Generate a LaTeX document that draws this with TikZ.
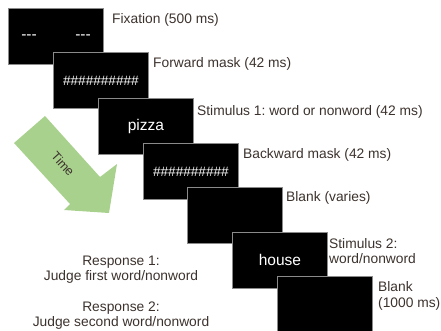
\documentclass[tikz,border=0pt]{standalone}
\usepackage{fontspec}
\setmainfont{Liberation Sans}
\frenchspacing
\definecolor{txt}{HTML}{3C322D}
\definecolor{arrowgreen}{HTML}{A9D18E}
\definecolor{boxedge}{HTML}{8A8A8A}
\begin{document}
\begin{tikzpicture}[x=1pt,y=-1pt,
  screen/.style={draw=boxedge, line width=0.8pt, fill=black, anchor=north west,
    minimum width=95pt, minimum height=56pt, inner sep=0pt, text=white,
    font=\fontsize{15.5}{17}\selectfont},
  hashes/.style={font=\fontsize{13.6}{15}\selectfont},
  lbl/.style={anchor=west, inner sep=0pt, text=txt, align=left,
    font=\fontsize{13.8}{15.5}\selectfont},
  resp/.style={inner sep=0pt, text=txt, align=center,
    font=\fontsize{13.8}{15.5}\selectfont}]
\useasboundingbox (0,0) rectangle (441,330);
% time arrow
\fill[arrowgreen] (45,116) -- (100,177) -- (117,164) -- (109,213) -- (64,210) -- (70,204) -- (14,143) -- cycle;
\node[text=txt, rotate=-48, inner sep=0pt, font=\fontsize{12.5}{14}\selectfont] (time) at (63,164) {Time};
% screens
\node[screen] (s1) at (8,8) {};
\node[text=white, inner sep=0pt, font=\fontsize{15.5}{17}\selectfont] (d1) at (29,37) {-\kern0pt-\kern0pt-};
\node[text=white, inner sep=0pt, font=\fontsize{15.5}{17}\selectfont] (d2) at (83,37) {-\kern0pt-\kern0pt-};
\node[screen, hashes] (s2) at (53,52) {\#\#\#\#\#\#\#\#\#\#};
\node[screen] (s3) at (98,98) {pizza};
\node[screen, hashes] (s4) at (143,143) {\#\#\#\#\#\#\#\#\#\#};
\node[screen] (s5) at (187,187) {};
\node[screen] (s6) at (232,232) {house};
\node[screen] (s7) at (277,276) {};
% labels
\node[lbl] (l1) at (112,20) {Fixation (500 ms)};
\node[lbl] (l2) at (153,64) {Forward mask (42 ms)};
\node[lbl] (l3) at (197,112) {Stimulus 1: word or nonword (42 ms)};
\node[lbl] (l4) at (243,155) {Backward mask (42 ms)};
\node[lbl] (l5) at (286,198) {Blank (varies)};
\node[lbl] (l6) at (329,251) {Stimulus 2:\\word/nonword};
\node[lbl] (l7) at (378,296) {Blank\\(1000 ms)};
% responses
\node[resp] (r1) at (121,269.5) {Response 1:\\Judge first word/nonword};
\node[resp] (r2) at (121,315.5) {Response 2:\\Judge second word/nonword};
\end{tikzpicture}
\end{document}
